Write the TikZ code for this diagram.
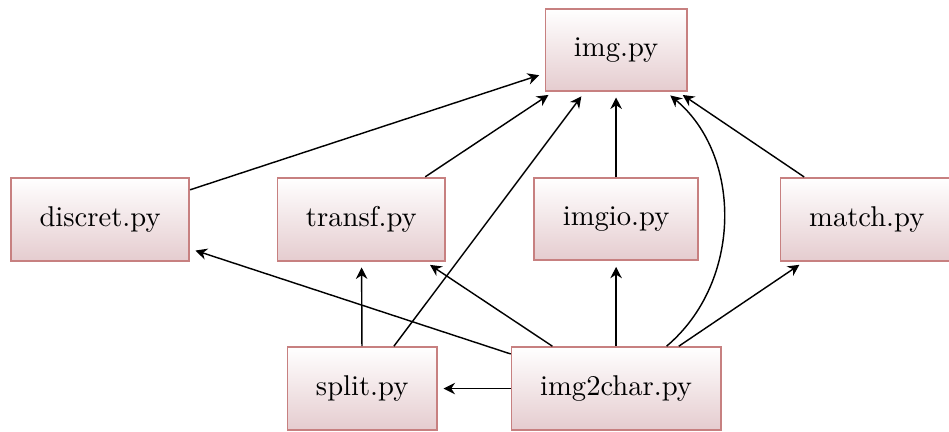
\documentclass[tikz,border=0pt]{standalone}
\usepackage{tikz}
\usetikzlibrary{arrows.meta}

\definecolor{boxline}{rgb}{0.78,0.50,0.50}
\definecolor{boxfill}{RGB}{229,204,207}

\begin{document}
\begin{tikzpicture}[
	pyfile/.style={rectangle, draw=boxline, semithick, inner sep=10pt,
		top color=white, bottom color=boxfill},
	dep/.style={->, line width=0.5pt, >={Stealth[length=4pt,width=4pt]}, shorten >=2pt}]
	\useasboundingbox (-7.57,0.614) rectangle (4.09,-4.69);

	\node[pyfile] (img) at (0,0) {img.py};
	\node[pyfile] (discret) at (-6.34,-2.08) {discret.py};
	\node[pyfile] (transf) at (-3.13,-2.08) {transf.py};
	\node[pyfile] (imgio) at (0,-2.08) {imgio.py};
	\node[pyfile] (match) at (3.08,-2.08) {match.py};
	\node[pyfile] (split) at (-3.12,-4.16) {split.py};
	\node[pyfile] (img2char) at (0,-4.16) {img2char.py};

	% middle row -> img
	\draw [dep] (discret) -- (img);
	\draw [dep] (transf) -- (img);
	\draw [dep] (imgio) -- (img);
	\draw [dep] (match) -- (img);

	% split
	\draw [dep] (split) -- (img);
	\draw [dep] (split) -- (transf);

	% img2char
	\draw [dep] (img2char) -- (split);
	\draw [dep] (img2char) -- (discret);
	\draw [dep] (img2char) -- (transf);
	\draw [dep] (img2char) -- (imgio);
	\draw [dep] (img2char) -- (match);
	\draw [dep] (img2char) to[bend right=50] (img);
\end{tikzpicture}
\end{document}
